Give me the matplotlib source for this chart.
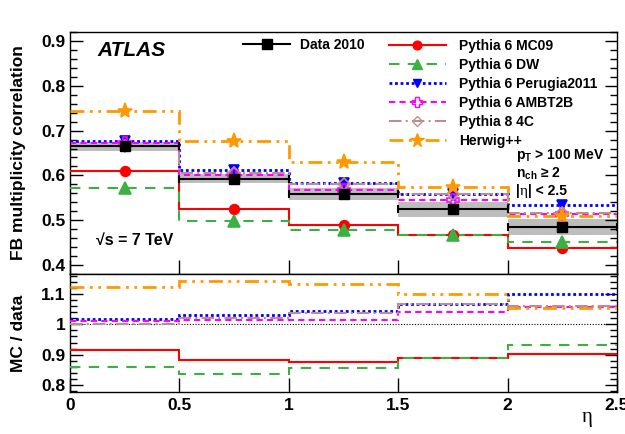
import matplotlib
matplotlib.use("Agg")
import matplotlib.pyplot as plt
from matplotlib.lines import Line2D
from matplotlib.patches import Rectangle
import numpy as np

plt.rcParams['font.family'] = ['Liberation Sans', 'DejaVu Sans']
plt.rcParams['mathtext.fontset'] = 'custom'
plt.rcParams['mathtext.rm'] = 'Liberation Sans:bold'
plt.rcParams['mathtext.it'] = 'Liberation Sans:bold'
plt.rcParams['mathtext.bf'] = 'Liberation Sans:bold'

# ---------------- data ----------------
eta_edges = [0.0, 0.5, 1.0, 1.5, 2.0, 2.5]
eta_centers = [0.25, 0.75, 1.25, 1.75, 2.25]

data_2010 = [0.665, 0.593, 0.559, 0.524, 0.485]
data_err = [0.010, 0.011, 0.013, 0.016, 0.018]

mc_labels = ["Pythia 6 MC09", "Pythia 6 DW", "Pythia 6 Perugia2011",
             "Pythia 6 AMBT2B", "Pythia 8 4C", "Herwig++"]
mc09 = [0.610, 0.524, 0.490, 0.467, 0.437]
dw = [0.573, 0.498, 0.478, 0.466, 0.452]
perugia2011 = [0.677, 0.611, 0.583, 0.559, 0.534]
ambt2b = [0.673, 0.601, 0.568, 0.545, 0.513]
pythia8_4c = [0.665, 0.606, 0.581, 0.559, 0.516]
herwig = [0.744, 0.676, 0.631, 0.574, 0.510]

ratio_mc09 = [0.915, 0.882, 0.876, 0.889, 0.901]
ratio_dw = [0.861, 0.837, 0.855, 0.889, 0.932]
ratio_perugia2011 = [1.018, 1.032, 1.043, 1.068, 1.101]
ratio_ambt2b = [1.010, 1.015, 1.016, 1.040, 1.057]
ratio_pythia8_4c = [1.000, 1.022, 1.039, 1.068, 1.062]
ratio_herwig = [1.123, 1.143, 1.133, 1.099, 1.053]

mc_values = [mc09, dw, perugia2011, ambt2b, pythia8_4c, herwig]
mc_ratios = [ratio_mc09, ratio_dw, ratio_perugia2011, ratio_ambt2b,
             ratio_pythia8_4c, ratio_herwig]

# ---------------- styles ----------------
styles = [
    dict(color='#ff0000', ls='-', lw=1.5, marker='o', ms=7, mfc='#ff0000'),
    dict(color='#3cb043', ls=(0, (5, 4)), lw=1.5, marker='^', ms=8, mfc='#3cb043'),
    dict(color='#0000ff', ls=(0, (1, 1)), lw=2.0, marker='v', ms=7, mfc='#0000ff'),
    dict(color='#ff00ff', ls=(0, (3, 2)), lw=1.5, marker='P', ms=8, mfc='none'),
    dict(color='#bc8f8f', ls=(0, (6, 2, 1, 2)), lw=1.5, marker='D', ms=6, mfc='none'),
    dict(color='#ff9900', ls=(0, (5, 2, 1, 2, 1, 2)), lw=2.0, marker='*', ms=11, mfc='#ff9900'),
]

W, H = 625, 434
fig = plt.figure(figsize=(W / 100, H / 100), dpi=100)

def px_axes(x0, y0, x1, y1):
    return fig.add_axes([x0 / W, 1 - y1 / H, (x1 - x0) / W, (y1 - y0) / H])

ax1 = px_axes(70, 32, 617, 274)
ax2 = px_axes(70, 274, 617, 392)

for ax in (ax1, ax2):
    for s in ax.spines.values():
        s.set_linewidth(1.0)
    ax.set_xlim(0, 2.5)
    ax.tick_params(axis='both', which='both', direction='in', right=True, top=False)
    ax.tick_params(axis='y', which='major', length=9, width=1)
    ax.tick_params(axis='y', which='minor', length=5, width=1)
    ax.tick_params(axis='x', which='major', length=10, width=1)
    ax.set_xticks([0, 0.5, 1, 1.5, 2, 2.5])

# ----- top panel -----
ax1.set_ylim(0.38, 0.92)
ax1.set_yticks(np.arange(0.4, 0.91, 0.1))
ax1.set_yticks(np.arange(0.38, 0.921, 0.02), minor=True)
ax1.set_yticklabels(['0.4', '0.5', '0.6', '0.7', '0.8', '0.9'],
                    fontsize=12.5, fontweight='bold')
ax1.set_xticklabels([])

# data gray band
for i in range(5):
    ax1.add_patch(Rectangle((eta_edges[i], data_2010[i] - data_err[i]),
                            eta_edges[i + 1] - eta_edges[i], 2 * data_err[i],
                            facecolor='#bdbdbd', edgecolor='none', zorder=1))

for vals, st in zip(mc_values, styles):
    ax1.stairs(vals, eta_edges, baseline=None, color=st['color'],
               linestyle=st['ls'], linewidth=st['lw'], zorder=3)
    ax1.plot(eta_centers, vals, linestyle='none', marker=st['marker'],
             ms=st['ms'], mfc=st['mfc'], mec=st['color'], mew=1.2, zorder=4)

ax1.errorbar(eta_centers, data_2010, xerr=0.25, fmt='s', color='black',
             ms=7.5, lw=1.5, capsize=3, capthick=1.5, zorder=5)

# legend
h_data = Line2D([], [], color='black', lw=1.5, marker='s', ms=7)
leg1 = ax1.legend([h_data], ['Data 2010'], loc='upper left',
                  bbox_to_anchor=((243 - 70) / 547, 1 - 6 / 242),
                  frameon=False, prop=dict(size=10, weight='bold'),
                  handlelength=3.4, handletextpad=0.7, borderpad=0, borderaxespad=0)
ax1.add_artist(leg1)
handles = [Line2D([], [], color=st['color'], ls=st['ls'], lw=st['lw'],
                  marker=st['marker'], ms=st['ms'] * 0.9, mfc=st['mfc'],
                  mec=st['color']) for st in styles]
ax1.legend(handles, mc_labels, loc='upper left',
           bbox_to_anchor=((389 - 70) / 547, 1 - 7 / 242),
           frameon=False, prop=dict(size=10, weight='bold'),
           handlelength=4.1, handletextpad=0.95, labelspacing=0.36,
           borderpad=0, borderaxespad=0)

ax1.text((97 - 70) / 547, 1 - (50 - 32) / 242, 'ATLAS', transform=ax1.transAxes,
         fontsize=15, fontweight='bold', fontstyle='italic', va='center', ha='left')
ax1.text((96 - 70) / 547, 1 - (240 - 32) / 242, '\u221as = 7 TeV',
         transform=ax1.transAxes, fontsize=11.5, fontweight='bold',
         va='center', ha='left')
ax1.text((516 - 70) / 547, 1 - (156 - 32) / 242, r'p$_{\mathrm{T}}$ > 100 MeV',
         transform=ax1.transAxes, fontsize=10, fontweight='bold', va='center', ha='left')
ax1.text((516 - 70) / 547, 1 - (174 - 32) / 242, 'n$_{\\mathrm{ch}}$ \u2265 2',
         transform=ax1.transAxes, fontsize=10, fontweight='bold', va='center', ha='left')
# |eta| < 2.5 : serif eta as in the reference
t_bar = ax1.text((516 - 70) / 547, 1 - (191 - 32) / 242, '|',
                 transform=ax1.transAxes, fontsize=10, fontweight='bold',
                 va='center', ha='left')
t_eta = ax1.annotate('\u03b7', xycoords=t_bar, xy=(1, 0.5), va='center', ha='left',
                     fontsize=11, family='Liberation Serif')
ax1.annotate('| < 2.5', xycoords=t_eta, xy=(1, 0.5), va='center', ha='left',
             fontsize=10, fontweight='bold')

ax1.set_ylabel('FB multiplicity correlation', fontsize=12.5, fontweight='bold')
ax1.yaxis.set_label_coords(-0.08, 0.5)

# ----- bottom panel -----
ax2.set_ylim(0.777, 1.166)
ax2.set_yticks([0.8, 0.9, 1.0, 1.1])
ax2.set_yticks(np.arange(0.78, 1.161, 0.02), minor=True)
ax2.set_yticklabels(['0.8', '0.9', '1', '1.1'], fontsize=12.5, fontweight='bold')
ax2.set_xticklabels(['0', '0.5', '1', '1.5', '2', '2.5'], fontsize=12.5,
                    fontweight='bold')
ax2.tick_params(axis='x', pad=4)
ax2.axhline(1.0, color='black', ls=(0, (1, 1.5)), lw=0.8, zorder=1)
for vals, st in zip(mc_ratios, styles):
    ax2.stairs(vals, eta_edges, baseline=None, color=st['color'],
               linestyle=st['ls'], linewidth=st['lw'], zorder=3)
ax2.set_ylabel('MC / data', fontsize=12.5, fontweight='bold')
ax2.yaxis.set_label_coords(-0.08, 0.5)
ax2.text((587 - 70) / 547, -0.22, '\u03b7', transform=ax2.transAxes,
         fontsize=15, ha='center', va='center', family='Liberation Serif')

fig.savefig('out.png', dpi=100)
